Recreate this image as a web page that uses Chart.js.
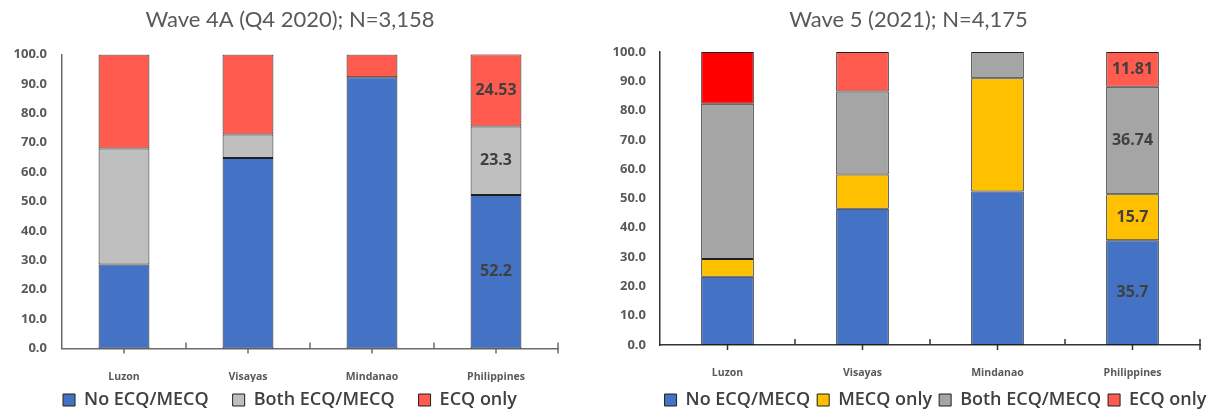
<!DOCTYPE html>
<html>
<head>
<meta charset="utf-8">
<script src="https://cdn.jsdelivr.net/npm/chart.js@4.4.0/dist/chart.umd.min.js"></script>
<style>
  html, body { margin: 0; padding: 0; background: #ffffff; }
  #wrap { position: relative; width: 1217px; height: 412px; overflow: hidden; }
  #wave4 { position: absolute; left: 0; top: 0; }
  #wave5 { position: absolute; left: 600px; top: 0; }
</style>
</head>
<body>
<div id="wrap">
  <canvas id="wave4" width="600" height="412"></canvas>
  <canvas id="wave5" width="617" height="412"></canvas>
</div>
<script>
// Regions on the x axis
const regions = ['Luzon', 'Visayas', 'Mindanao', 'Philippines'];

// Wave 4A (Q4 2020), percent of households
const w4NoEcq   = [28.6, 64.8, 92.2, 52.2];
const w4Both    = [39.4, 8.0, 0, 23.3];
const w4EcqOnly = [32.0, 27.2, 7.8, 24.53];

// Wave 5 (2021), percent of households
const w5NoEcq    = [23.3, 46.5, 52.4, 35.7];
const w5MecqOnly = [6.0, 11.7, 38.6, 15.7];
const w5Both     = [53.0, 28.3, 9.0, 36.74];
const w5EcqOnly  = [17.7, 13.5, 0, 11.81];

// Only the national bar carries value labels
const labelledRegion = 'Philippines';

const TITLE_FONT = 'Lato, "Open Sans", sans-serif';
const FONT = '"Open Sans", Lato, sans-serif';
const TEXT = '#595959';
const BLUE = '#4472C4', RED = '#FF5B4F', BRIGHT_RED = '#FF0000';
const YELLOW = '#FFC000', GRAY_LIGHT = '#BFBFBF', GRAY = '#A5A5A5';

// Writes each segment's value in the middle of the labelled bar
const segmentLabels = {
  id: 'segmentLabels',
  afterDatasetsDraw(chart) {
    const idx = chart.data.labels.indexOf(labelledRegion);
    const ctx = chart.ctx;
    ctx.save();
    ctx.font = 'bold 16px ' + FONT;
    ctx.fillStyle = '#404040';
    ctx.textAlign = 'center';
    ctx.textBaseline = 'middle';
    chart.data.datasets.forEach((ds, i) => {
      const v = ds.data[idx];
      if (!v) return;
      const bar = chart.getDatasetMeta(i).data[idx];
      const p = bar.getProps(['x', 'y', 'base'], true);
      ctx.fillText(String(v), p.x, (p.y + p.base) / 2);
    });
    ctx.restore();
  }
};

// Category tick marks: short marks up at the category boundaries, down at the centres
const categoryMarks = {
  id: 'categoryMarks',
  afterDraw(chart, args, opts) {
    const sx = chart.scales.x;
    const ctx = chart.ctx;
    const y0 = sx.top;
    const n = chart.data.labels.length;
    ctx.save();
    ctx.strokeStyle = opts.color;
    ctx.lineWidth = 1.5;
    ctx.beginPath();
    for (let i = 0; i < n; i++) {
      const c = sx.getPixelForTick(i);
      ctx.moveTo(c, y0); ctx.lineTo(c, y0 + 5);
      const b = i < n - 1 ? (c + sx.getPixelForTick(i + 1)) / 2 : sx.right;
      ctx.moveTo(b, y0 + (i === n - 1 ? 5 : 0)); ctx.lineTo(b, y0 - 6);
    }
    ctx.stroke();
    ctx.restore();
  }
};

// Fixes the legend band height and nudges where its items sit
const legendPlacement = {
  id: 'legendPlacement',
  afterInit(chart, args, opts) {
    const lg = chart.legend;
    if (!lg) return;
    const fit = lg.fit.bind(lg);
    const draw = lg.draw.bind(lg);
    lg.fit = function () { fit(); this.height = opts.height; };
    lg.draw = function (area) {
      const box = { top: this.top, left: this.left, right: this.right };
      this.top += opts.dy;
      this.left += opts.dx;
      this.right += opts.dx;
      draw(area);
      Object.assign(this, box);
    };
  }
};

function dataset(label, data, color) {
  return {
    label, data,
    backgroundColor: color,
    borderColor: '#1f1f1f',
    borderWidth: 1,
    borderSkipped: false
  };
}

function makeChart(id, title, datasets, o) {
  return new Chart(document.getElementById(id), {
    type: 'bar',
    data: { labels: regions, datasets },
    options: {
      responsive: false,
      animation: false,
      devicePixelRatio: 1,
      layout: { padding: { left: 0, right: o.padRight, top: 0, bottom: 0 } },
      datasets: { bar: { categoryPercentage: 1, barPercentage: o.barPct } },
      plugins: {
        tooltip: { enabled: false },
        title: {
          display: true, text: title, color: TEXT,
          font: { family: TITLE_FONT, size: 22, weight: 'normal' },
          padding: { top: 7, bottom: o.titleGap }
        },
        legend: {
          position: 'bottom',
          labels: {
            color: '#404040',
            font: { family: FONT, size: 18, weight: '600' },
            boxWidth: 12, boxHeight: 12,
            padding: o.legendPad,
            generateLabels: (chart) =>
              Chart.defaults.plugins.legend.labels.generateLabels(chart).map(l => {
                const c = chart.data.datasets[l.datasetIndex].legendColor;
                if (c) l.fillStyle = c;
                return l;
              })
          }
        },
        legendPlacement: { height: 30, dx: o.legendDx, dy: 9 - o.legendPad },
        categoryMarks: { color: o.axisColor }
      },
      scales: {
        x: {
          stacked: true,
          afterFit: (s) => { s.height = o.xHeight; },
          grid: { display: false, drawTicks: false, tickLength: 0 },
          border: { display: true, color: o.axisColor, width: 1.5 },
          ticks: { color: TEXT, padding: o.xPad, font: { family: FONT, size: 10.5, weight: 'bold' } }
        },
        y: {
          stacked: true, min: 0, max: 100,
          afterFit: (s) => { s.width = o.yWidth; },
          grid: { display: false, drawTicks: false, tickLength: 0 },
          border: { display: true, color: o.axisColor, width: 1.5 },
          ticks: {
            stepSize: 10, color: TEXT, padding: o.yPad,
            font: { family: FONT, size: 13, weight: 'bold' },
            callback: (v) => Number(v).toFixed(1)
          }
        },
        // empty band on the right so the plot ends short of the title/legend centre
        edge: {
          type: 'linear', position: 'right', display: true,
          afterFit: (s) => { s.width = o.rightGap; },
          grid: { display: false, drawTicks: false },
          border: { display: false },
          ticks: { display: false }
        }
      }
    },
    plugins: [segmentLabels, categoryMarks, legendPlacement]
  });
}

makeChart('wave4', 'Wave 4A (Q4 2020); N=3,158', [
  dataset('No ECQ/MECQ', w4NoEcq, BLUE),
  dataset('Both ECQ/MECQ', w4Both, GRAY_LIGHT),
  dataset('ECQ only', w4EcqOnly, RED)
], { padRight: 20, rightGap: 22, barPct: 0.41, titleGap: 21, legendPad: 24, legendDx: 0,
     xHeight: 33.5, xPad: 22, yWidth: 62, yPad: 15, axisColor: '#6b6b6b' });

const w5Ecq = dataset('ECQ only', w5EcqOnly, [BRIGHT_RED, RED, RED, RED]);
w5Ecq.legendColor = RED;
makeChart('wave5', 'Wave 5 (2021); N=4,175', [
  dataset('No ECQ/MECQ', w5NoEcq, BLUE),
  dataset('MECQ only', w5MecqOnly, YELLOW),
  dataset('Both ECQ/MECQ', w5Both, GRAY),
  w5Ecq
], { padRight: 0, rightGap: 17, barPct: 0.39, titleGap: 18.5, legendPad: 7, legendDx: 27,
     xHeight: 37, xPad: 22, yWidth: 60, yPad: 14, axisColor: '#333333' });
</script>
</body>
</html>
